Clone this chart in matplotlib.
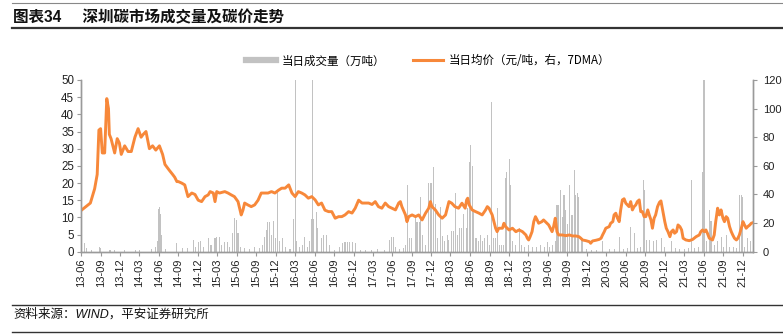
import matplotlib
matplotlib.use("Agg")
import matplotlib.pyplot as plt
from matplotlib.lines import Line2D
import pandas as pd

plt.rcParams['font.family'] = ['Liberation Sans', 'Noto Sans CJK SC', 'DejaVu Sans']

title_text = "图表34     深圳碳市场成交量及碳价走势"
source_text = "资料来源：WIND，平安证券研究所"
vol_label = "当日成交量（万吨）"
price_label = "当日均价（元/吨，右，7DMA）"

# 当日均价（元/吨，7DMA）
price_dates = [
 "2013-06-03","2013-07-15","2013-08-04","2013-08-16","2013-08-24","2013-09-01","2013-09-09","2013-09-20",
 "2013-09-30","2013-10-08","2013-10-12","2013-10-20","2013-11-06","2013-11-18","2013-11-28","2013-12-07",
 "2013-12-23","2014-01-08","2014-01-23","2014-02-09","2014-02-24","2014-03-10","2014-03-20","2014-04-02",
 "2014-04-18","2014-05-03","2014-05-18","2014-06-04","2014-06-19","2014-06-30","2014-07-20","2014-08-05",
 "2014-08-15","2014-08-25","2014-09-01","2014-09-16","2014-10-01","2014-10-16","2014-11-03","2014-11-18",
 "2014-12-03","2014-12-19","2015-01-04","2015-01-19","2015-01-28","2015-02-12","2015-02-20","2015-02-28",
 "2015-03-13","2015-04-07","2015-04-22","2015-05-07","2015-05-22","2015-06-08","2015-06-23","2015-07-01",
 "2015-07-09","2015-07-24","2015-08-09","2015-08-25","2015-09-10","2015-09-25","2015-10-11","2015-10-27",
 "2015-11-12","2015-11-28","2015-12-15","2015-12-30","2016-01-15","2016-02-01","2016-02-08","2016-02-16",
 "2016-03-02","2016-03-17","2016-04-02","2016-04-17","2016-05-03","2016-05-19","2016-06-04","2016-06-19",
 "2016-07-04","2016-07-20","2016-08-06","2016-08-21","2016-09-06","2016-09-22","2016-10-07","2016-10-22",
 "2016-11-08","2016-11-24","2016-12-09","2016-12-25","2017-01-10","2017-01-25","2017-02-10","2017-02-26",
 "2017-03-13","2017-03-28","2017-04-13","2017-04-29","2017-05-15","2017-05-30","2017-06-16","2017-07-01",
 "2017-07-09","2017-07-16","2017-08-02","2017-08-09","2017-08-17","2017-09-02","2017-09-18","2017-10-03",
 "2017-10-19","2017-11-04","2017-11-19","2017-11-27","2017-12-04","2017-12-20","2018-01-05","2018-01-21",
 "2018-02-06","2018-02-22","2018-03-07","2018-03-22","2018-04-08","2018-04-24","2018-05-09","2018-05-16",
 "2018-05-21","2018-05-28","2018-06-11","2018-06-27","2018-07-12","2018-07-28","2018-08-13","2018-08-21",
 "2018-08-29","2018-09-13","2018-09-21","2018-09-29","2018-10-06","2018-10-14","2018-10-31","2018-11-07",
 "2018-11-15","2018-12-01","2018-12-17","2019-01-02","2019-01-17","2019-02-02","2019-02-18","2019-02-25",
 "2019-03-03","2019-03-10","2019-03-19","2019-03-27","2019-04-04","2019-04-12","2019-04-19","2019-05-04",
 "2019-05-12","2019-05-20","2019-06-05","2019-06-13","2019-06-21","2019-06-28","2019-07-06","2019-07-14",
 "2019-07-22","2019-08-07","2019-08-25","2019-09-10","2019-09-25","2019-10-10","2019-10-25","2019-11-03",
 "2019-11-11","2019-11-27","2019-12-13","2019-12-19","2019-12-28","2020-01-13","2020-01-28","2020-02-06",
 "2020-02-13","2020-02-21","2020-02-28","2020-03-15","2020-03-22","2020-04-01","2020-04-07","2020-04-15",
 "2020-04-23","2020-05-01","2020-05-08","2020-05-16","2020-05-24","2020-06-01","2020-06-16","2020-06-24",
 "2020-07-02","2020-07-10","2020-07-18","2020-07-25","2020-08-03","2020-08-10","2020-08-18","2020-08-26",
 "2020-09-03","2020-09-12","2020-09-19","2020-09-27","2020-10-04","2020-10-12","2020-10-19","2020-10-28",
 "2020-11-06","2020-11-13","2020-11-21","2020-12-01","2020-12-08","2020-12-16","2020-12-25","2021-01-01",
 "2021-01-09","2021-01-16","2021-01-25","2021-02-01","2021-02-10","2021-02-18","2021-02-25","2021-03-10",
 "2021-03-26","2021-04-11","2021-04-27","2021-05-12","2021-05-19","2021-05-27","2021-06-04","2021-06-12",
 "2021-06-19","2021-06-28","2021-07-13","2021-07-21","2021-07-28","2021-08-06","2021-08-14","2021-08-22",
 "2021-08-31","2021-09-07","2021-09-15","2021-09-22","2021-10-01","2021-10-09","2021-10-16","2021-10-24",
 "2021-11-02","2021-11-09","2021-11-16","2021-11-25","2021-12-03","2021-12-10","2021-12-18","2021-12-25",
 "2022-01-04","2022-01-11","2022-01-19"]
price_values = [
 29,34,44,54,85,86,69,69,
 107,100,82,79,69,79,76,68,
 74,70,70,80,86,80,82,84,
 72,74,71,74,68,61,57,54,
 52,49,49,48,46.7,38.5,41,40,
 36,35,38.5,39.7,42,41,35,42,
 41,42,41,39.7,38.5,35,25.7,29,
 34,32.7,31.5,32.7,36,41,41,41,
 42,41,43,44.4,44.4,46.7,44,41,
 38.5,42,41,39.7,37.4,38.5,36.2,32.7,
 34,29,28,28,23.4,24.5,24.5,25.7,
 28,27,30.4,36,34,34,34,33,
 35,31.5,30.4,34,31.5,30.4,29.2,34,
 35,31.5,25.7,21,24.5,25.7,24.5,25.7,
 22.2,26.9,30.4,35,31.5,29.2,25.7,23.4,
 25.7,35,33.9,31.5,30.4,33.9,30.4,36.2,
 37.4,32.7,29.2,28,27,25.7,29.2,31.5,
 30.4,25.7,21,16.4,14,16.4,16.4,19.9,
 17.5,15.2,16.4,14,15.2,14,11.7,9.4,
 8.2,10.5,14,21,24.5,22.2,19.9,21,
 22.2,21,18.7,16.4,14,17.5,23.4,14,
 11.7,11.7,11.2,11.7,11,11,10.5,9.4,
 8.2,7.7,7,5.9,7.5,8,8.6,9.4,
 11.7,14,16.4,17.5,19.9,21,25.7,26.9,
 23.4,21,29.2,36.2,37,33.9,31.5,35,
 29.2,31.5,32.7,35,36.2,28,28,24.5,
 24.5,29.2,25.7,22.2,16.4,23.4,25.7,31.5,
 34.5,35.5,29,21,16.4,14,10.5,14,
 15.2,12.9,14,18.7,17.5,15.2,9.4,8.2,
 7.7,8.6,10.5,11.7,14,15.2,14,15.2,
 12.9,9.4,8.2,11.7,21,30.4,25.7,29.2,
 23.4,21,24.5,23.4,17.5,14,11.7,9.4,
 8.2,9.4,11.7,16.4,21,18.7,16.4,17.5,
 18.7,19.9,20.3]

# 当日成交量（万吨）
vol_dates = [
 "2013-06-18","2013-06-25","2013-07-20","2013-08-28","2013-09-02","2013-10-15","2013-11-06","2013-12-24",
 "2014-02-10","2014-03-04","2014-04-28","2014-05-17","2014-05-26","2014-06-01","2014-06-05","2014-06-10",
 "2014-06-15","2014-07-03","2014-08-22","2014-09-19","2014-10-16","2014-11-10","2014-11-22","2014-12-04",
 "2014-12-16","2014-12-30","2015-01-19","2015-02-01","2015-02-20","2015-02-28","2015-03-13","2015-03-22",
 "2015-04-07","2015-04-20","2015-05-01","2015-05-15","2015-05-23","2015-06-01","2015-06-08","2015-06-20",
 "2015-07-09","2015-08-01","2015-08-25","2015-09-18","2015-10-01","2015-10-11","2015-10-19","2015-10-25",
 "2015-11-04","2015-11-14","2015-11-23","2015-11-30","2015-12-11","2015-12-21","2016-01-04","2016-01-19",
 "2016-02-07","2016-02-22","2016-02-25","2016-03-02","2016-03-10","2016-03-22","2016-04-06","2016-04-16",
 "2016-05-01","2016-05-10","2016-05-16","2016-05-22","2016-05-28","2016-06-10","2016-06-16","2016-07-04",
 "2016-07-13","2016-07-28","2016-08-12","2016-09-04","2016-09-28","2016-10-12","2016-10-22","2016-11-01",
 "2016-11-14","2016-11-28","2016-12-12","2017-01-01","2017-01-25","2017-02-25","2017-03-25","2017-04-25",
 "2017-05-19","2017-05-28","2017-06-07","2017-06-16","2017-07-05","2017-07-25","2017-08-04","2017-08-13",
 "2017-08-22","2017-09-01","2017-09-16","2017-09-22","2017-09-28","2017-10-06","2017-10-13","2017-10-22",
 "2017-11-06","2017-11-19","2017-11-26","2017-12-03","2017-12-12","2017-12-20","2018-01-01","2018-01-13",
 "2018-01-24","2018-02-03","2018-02-13","2018-02-22","2018-03-07","2018-03-16","2018-03-25","2018-04-03",
 "2018-04-13","2018-04-22","2018-05-01","2018-05-14","2018-05-21","2018-05-28","2018-06-04","2018-06-11",
 "2018-06-19","2018-06-29","2018-07-10","2018-07-19","2018-07-28","2018-08-08","2018-08-22","2018-08-30",
 "2018-09-10","2018-09-19","2018-09-28","2018-10-07","2018-10-16","2018-10-28","2018-11-07","2018-11-13",
 "2018-11-21","2018-12-01","2018-12-05","2018-12-10","2018-12-19","2019-01-02","2019-01-17","2019-01-30",
 "2019-02-13","2019-03-02","2019-03-21","2019-04-09","2019-04-27","2019-05-16","2019-05-29","2019-06-09",
 "2019-06-22","2019-07-06","2019-07-14","2019-07-22","2019-07-30","2019-08-09","2019-08-16","2019-08-22",
 "2019-09-01","2019-09-10","2019-09-18","2019-09-25","2019-10-03","2019-10-10","2019-10-18","2019-10-25",
 "2019-11-04","2019-11-11","2019-11-30","2019-12-22","2020-01-16","2020-02-13","2020-03-16","2020-04-10",
 "2020-05-01","2020-05-22","2020-06-09","2020-06-24","2020-07-10","2020-07-25","2020-08-09","2020-08-22",
 "2020-08-28","2020-09-07","2020-09-21","2020-10-09","2020-10-23","2020-11-15","2020-12-01","2021-01-01",
 "2021-01-22","2021-02-10","2021-03-03","2021-03-22","2021-04-07","2021-04-19","2021-05-07","2021-05-25",
 "2021-06-01","2021-06-07","2021-06-16","2021-06-28","2021-07-06","2021-07-22","2021-08-06","2021-08-22",
 "2021-09-03","2021-09-15","2021-10-01","2021-10-19","2021-11-03","2021-11-16","2021-11-25","2021-11-29",
 "2021-12-10","2021-12-25","2022-01-07"]
vol_values = [
 2.4,1.0,0.4,1.5,1.0,0.5,0.6,0.5,
 0.4,0.4,0.8,1.5,3,12.5,13,11,
 5,0.8,2.4,1.0,1.2,3.4,1.5,2.9,
 3.0,1.5,3.9,2.0,3.9,4.3,4.3,2.0,
 2.9,2.9,1.5,5.3,9.7,9.2,5.3,1.5,
 1.0,0.8,1.5,1.0,2.0,4.3,6.2,8.7,
 8.7,5,9,4,17.5,3,4,1.5,
 0.8,4,9.5,50,3,1.5,2.0,4.4,
 1.5,3,9.6,50,9.6,11.7,6.8,4,
 4.8,4.8,2,0.6,1.5,2.5,2.9,2.9,
 2.9,2.9,2.5,0.5,0.4,0.4,0.8,0.6,
 3.5,4.4,4.4,1.5,0.8,1.0,2.0,19.4,
 4,4,10.7,8.7,8.7,8.7,16,5,
 2,20,20,20,24.8,14,4,13,
 4.5,3,5,3.5,6,6,17,5,
 7,7,11,7,12.6,26.2,31,25,
 12,4,3,5,3,4,5,2,
 43.7,4,4,12.6,2,2,2,21.4,
 23.3,26.7,27,19.4,3,2,7,2,
 1.5,2,1.5,1.5,2,1.5,2.9,1.5,
 2,3,13.6,13.6,18,10,16.5,12,
 8,19.4,10.8,10.8,23.8,16.5,17,16,
 4,4,0.8,0.6,0.5,3,0.8,0.8,
 4.4,0.8,1,7.3,5.5,1,1.5,20.9,
 18,3.5,3.5,3,3.5,3.9,1.5,3,
 1,0.8,0.8,1,20.9,1,1.5,23.3,
 50,50,3,12.2,9,2,3,4.4,
 1.5,5,1.5,1.5,1,16.5,16.5,16,
 1.5,4,3]

left_ticks = [0, 5, 10, 15, 20, 25, 30, 35, 40, 45, 50]
right_ticks = [0, 20, 40, 60, 80, 100, 120]
tick_dates = pd.date_range("2013-06-01", "2021-12-01", freq="3MS")
tick_labels = [d.strftime("%y-%m") for d in tick_dates]

W, H = 783, 334
fig = plt.figure(figsize=(W / 100, H / 100), dpi=100)

ax = fig.add_axes([81 / W, 1 - 251.7 / H, (753 - 81) / W, (251.7 - 80) / H])
ax2 = ax.twinx()

bar_color = "#c2c2c2"
line_color = "#f7883a"
spine_color = "#9a9a9a"

vd = pd.to_datetime(vol_dates)
ax.bar(vd, vol_values, width=5, color=bar_color, linewidth=0, align="center")
pdt = pd.to_datetime(price_dates)
ax2.plot(pdt, price_values, color=line_color, lw=2.1, solid_joinstyle="round")

xmin = pd.Timestamp("2013-06-01")
xmax = pd.Timestamp("2022-01-19")
ax.set_xlim(xmin, xmax)
ax.set_ylim(0, 50)
ax2.set_ylim(0, 120)
ax.set_yticks(left_ticks)
ax2.set_yticks(right_ticks)
ax.set_xticks(tick_dates)
ax.set_xticklabels(tick_labels, rotation=90, fontsize=8, color="#222222")
ax.tick_params(axis="y", labelsize=8.3, colors=spine_color, labelcolor="#222222", length=3, width=0.8, pad=2)
ax2.tick_params(axis="y", labelsize=8.0, colors=spine_color, labelcolor="#222222", length=3, width=0.8, pad=4)
ax.tick_params(axis="x", colors=spine_color, labelcolor="#222222", length=3, width=0.8, pad=2)

for a in (ax, ax2):
    a.spines["top"].set_visible(False)
    for s in ("left", "right", "bottom"):
        a.spines[s].set_color(spine_color)
        a.spines[s].set_linewidth(1.0)
ax.patch.set_visible(False)

# legend
handles = [Line2D([0], [0], color=bar_color, lw=4.5),
           Line2D([0], [0], color=line_color, lw=2.2)]
fig.legend(handles, [vol_label, price_label], loc="center",
           bbox_to_anchor=(428 / W, 1 - 61 / H), ncol=2, frameon=False,
           prop={"family": ["Noto Sans CJK SC"], "size": 8.3},
           handlelength=2.6, handletextpad=0.5, columnspacing=2.4)

# header
fig.add_artist(Line2D([12 / W, 1], [1 - 3.3 / H, 1 - 3.3 / H], color="#888888", lw=0.8))
fig.text(13 / W, 1 - 17.5 / H, title_text, fontsize=11.2, fontweight="bold",
         va="center", ha="left", color="#111111",
         family=["Liberation Sans", "Noto Sans CJK SC"])
fig.add_artist(Line2D([12 / W, 1], [1 - 28 / H, 1 - 28 / H], color="#333333", lw=1.6))

# footer
fig.add_artist(Line2D([12 / W, 1], [1 - 305 / H, 1 - 305 / H], color="#333333", lw=1.0))
fig.text(13 / W, 1 - 314 / H, source_text, fontsize=9, style="italic",
         va="center", ha="left", color="#111111",
         family=["Liberation Sans", "Noto Sans CJK SC"])
fig.add_artist(Line2D([12 / W, 1], [1 - 331.5 / H, 1 - 331.5 / H], color="#333333", lw=1.0))

fig.savefig("out.png", dpi=100)
